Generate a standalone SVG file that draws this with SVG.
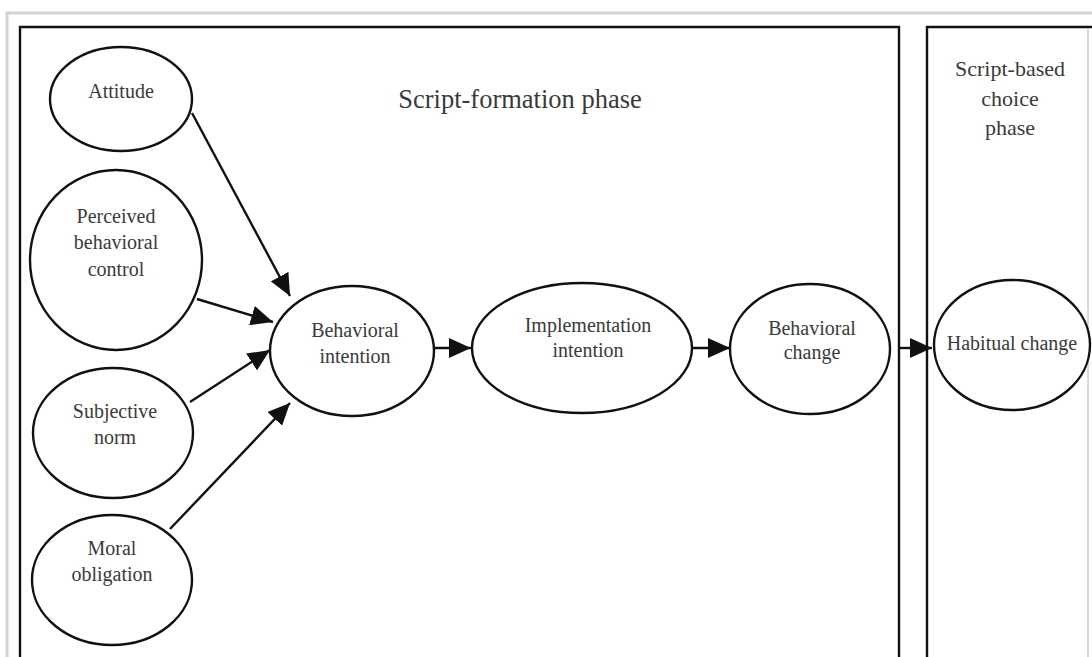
<svg xmlns="http://www.w3.org/2000/svg" width="1092" height="657" viewBox="0 0 1092 657">
<style>
.n ellipse{fill:#fff;stroke:#111;stroke-width:2.4}
text{font-family:"Liberation Serif","Times New Roman",serif;fill:#3a3a3a;text-anchor:middle}
.t{font-size:20px}
.h{font-size:26.5px}
.s{font-size:22px}
.c line{stroke:#111;stroke-width:2.4}
.frame{fill:none;stroke:#111;stroke-width:2.4}
</style>
<defs>
<marker id="ah" markerUnits="userSpaceOnUse" markerWidth="22" markerHeight="20" refX="22" refY="10" orient="auto">
<path d="M0,0 L22,10 L0,20 Z" fill="#111"/>
</marker>
</defs>
<rect width="1092" height="657" fill="#fff"/>
<path d="M7,657 V13 H1092" fill="none" stroke="#d4d4d4" stroke-width="3"/>
<g id="phase1">
<path class="frame" d="M20,657 V27 H899 V657"/>
<text class="h" x="520" y="108">Script-formation phase</text>
</g>
<g id="phase2">
<path class="frame" d="M927,657 V27 H1092"/>
<line x1="1088" y1="28" x2="1088" y2="657" stroke="#cfcfcf" stroke-width="1.5"/>
<text class="s" x="1010" y="76">Script-based</text>
<text class="s" x="1010" y="106">choice</text>
<text class="s" x="1010" y="135">phase</text>
</g>
<g class="c" id="connectors">
<line x1="192" y1="113" x2="290" y2="296" marker-end="url(#ah)"/>
<line x1="197" y1="299" x2="273" y2="322" marker-end="url(#ah)"/>
<line x1="190" y1="402" x2="270" y2="350" marker-end="url(#ah)"/>
<line x1="170" y1="529" x2="290" y2="403" marker-end="url(#ah)"/>
<line x1="434" y1="348" x2="471" y2="348" marker-end="url(#ah)"/>
<line x1="692" y1="348" x2="730" y2="348" marker-end="url(#ah)"/>
<line x1="900" y1="348" x2="932" y2="348" marker-end="url(#ah)"/>
</g>
<g class="n" id="attitude">
<ellipse cx="121" cy="99" rx="71" ry="52"/>
<text class="t" x="121" y="98">Attitude</text>
</g>
<g class="n" id="pbc">
<ellipse cx="116" cy="260" rx="86" ry="90"/>
<text class="t" x="116" y="223">Perceived</text>
<text class="t" x="116" y="249">behavioral</text>
<text class="t" x="116" y="276">control</text>
</g>
<g class="n" id="subjective-norm">
<ellipse cx="113" cy="433" rx="80" ry="65"/>
<text class="t" x="115" y="418">Subjective</text>
<text class="t" x="115" y="444">norm</text>
</g>
<g class="n" id="moral-obligation">
<ellipse cx="112" cy="580" rx="80" ry="65"/>
<text class="t" x="112" y="555">Moral</text>
<text class="t" x="112" y="581">obligation</text>
</g>
<g class="n" id="behavioral-intention">
<ellipse cx="352" cy="351" rx="82" ry="65"/>
<text class="t" x="355" y="337">Behavioral</text>
<text class="t" x="355" y="363">intention</text>
</g>
<g class="n" id="implementation-intention">
<ellipse cx="582" cy="348" rx="110" ry="65"/>
<text class="t" x="588" y="332">Implementation</text>
<text class="t" x="588" y="357">intention</text>
</g>
<g class="n" id="behavioral-change">
<ellipse cx="810" cy="349" rx="80" ry="65"/>
<text class="t" x="812" y="335">Behavioral</text>
<text class="t" x="812" y="359">change</text>
</g>
<g class="n" id="habitual-change">
<ellipse cx="1012" cy="345" rx="78" ry="65"/>
<text class="t" x="1012" y="350">Habitual change</text>
</g>
</svg>
